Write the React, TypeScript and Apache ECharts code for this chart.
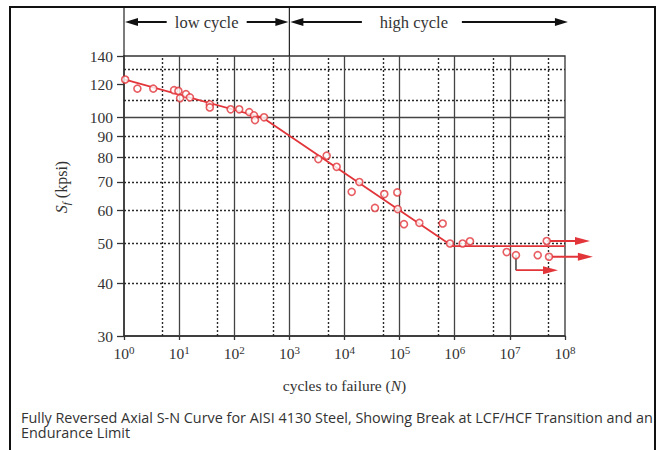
import React, { useEffect, useRef } from "react";
import * as echarts from "echarts";

// ---- data ----
const cyclesToFailure = [
  1.05, 1.75, 3.4, 8.1, 9.7, 10.4, 13.3, 15.7, 36, 36, 86, 123, 187, 228, 238, 347,
  3350, 4750, 7200, 13500, 18600, 35700, 52700, 90800, 92200, 120000, 228000, 604000,
  820000, 1390000, 1890000, 8750000, 12900000, 32000000, 46600000, 51300000,
];
const stressKpsi = [
  123, 117, 117, 116, 115.5, 111, 113.5, 111.5, 107.3, 105.5, 104.4, 104.4, 102.8, 101, 98.4, 99.9,
  79.4, 80.9, 76.1, 66.3, 70, 60.7, 65.5, 66.1, 60.3, 55.5, 55.9, 55.7,
  49.9, 49.9, 50.5, 47.6, 46.8, 46.8, 50.6, 46.4,
];
const fitCurveN = [1.05, 330, 900000, 100000000];
const fitCurveS = [123, 99.7, 49.2, 49.2];

const runoutFromN = [46600000, 51300000, 12900000];
const runoutFromS = [50.6, 46.4, 46.8];
const runoutLevelS = [50.6, 46.4, 43.1];
const runoutToN = [284000000, 320000000, 74600000];

const regionBoundsN = [1, 1000, 113000000];
const regionLabels = ["low cycle", "high cycle"];

const yTicks = [30, 40, 50, 60, 70, 80, 90, 100, 120, 140];
const xTicks = [1, 10, 100, 1000, 10000, 100000, 1000000, 10000000, 100000000];
const ySolidGrid = [100];
const yDottedGrid = [130, 110, 90, 80, 70, 60, 50, 40];
const xSolidGrid = [10, 100, 1000, 10000, 100000, 1000000, 10000000];
const xDottedGrid = [5, 50, 500, 5000, 50000, 500000, 5000000, 50000000];

const captionLines = [
  "Fully Reversed Axial S-N Curve for AISI 4130 Steel, Showing Break at LCF/HCF Transition and an",
  "Endurance Limit",
];

const RED = "#e2353a";
const INK = "#333";
const SERIF = '"Liberation Serif", "DejaVu Serif", serif';
const CAPTION_FONT = '14.4px "Open Sans", "Noto Sans", sans-serif';

function arrowParts(x1: number, x2: number, y: number, color: string, head: number, half: number, lw: number) {
  const dir = x2 > x1 ? 1 : -1;
  return [
    {
      type: "line",
      shape: { x1, y1: y, x2: x2 - dir * head * 0.7, y2: y },
      style: { stroke: color, lineWidth: lw },
    },
    {
      type: "polygon",
      shape: { points: [[x2, y], [x2 - dir * head, y - half], [x2 - dir * head, y + half]] },
      style: { fill: color },
    },
  ];
}

export default function App() {
  const ref = useRef<HTMLDivElement>(null);

  useEffect(() => {
    if (!ref.current) return;
    const chart = echarts.init(ref.current, undefined, { renderer: "svg" });

    const gridLines: any[] = [];
    ySolidGrid.forEach((v) => gridLines.push({ yAxis: v, lineStyle: { type: "solid", color: "#444", width: 1.3 } }));
    yDottedGrid.forEach((v) => gridLines.push({ yAxis: v, lineStyle: { type: [2, 2], color: "#2a2a2a", width: 1.4 } }));
    xSolidGrid.forEach((v) => gridLines.push({ xAxis: v, lineStyle: { type: "solid", color: "#444", width: 1.3 } }));
    xDottedGrid.forEach((v) => gridLines.push({ xAxis: v, lineStyle: { type: [2, 2], color: "#2a2a2a", width: 1.4 } }));

    const option: any = {
      animation: false,
      backgroundColor: "#fff",
      grid: {
        left: 124,
        top: 56,
        right: 97,
        bottom: 114,
        show: true,
        borderColor: INK,
        borderWidth: 1.3,
        backgroundColor: "#fff",
      },
      xAxis: {
        type: "log",
        logBase: 10,
        min: 1,
        max: 100000000,
        name: "cycles to failure ({i|N})",
        nameLocation: "middle",
        nameGap: 41,
        nameTextStyle: {
          fontFamily: SERIF,
          fontSize: 15.5,
          color: INK,
          rich: { i: { fontFamily: SERIF, fontSize: 15.5, fontStyle: "italic", color: INK } },
        },
        axisLine: { show: true, lineStyle: { color: INK, width: 1.5 } },
        axisTick: { show: true, customValues: xTicks, length: 4, lineStyle: { color: INK, width: 1.3 } },
        axisLabel: {
          customValues: xTicks,
          margin: 8,
          fontFamily: SERIF,
          fontSize: 15.5,
          color: INK,
          formatter: (v: number) => "{b|10}{s|" + Math.round(Math.log10(v)) + "}",
          rich: {
            b: { fontFamily: SERIF, fontSize: 15.5, color: INK, verticalAlign: "bottom" },
            s: { fontFamily: SERIF, fontSize: 11, color: INK, verticalAlign: "bottom", padding: [0, 0, 6, 0] },
          },
        },
        splitLine: { show: false },
        minorTick: { show: false },
      },
      yAxis: {
        type: "log",
        logBase: 10,
        min: 30,
        max: 140,
        name: "{i|S}{f|f} (kpsi)",
        nameLocation: "middle",
        nameRotate: 90,
        nameGap: 53,
        nameTextStyle: {
          fontFamily: SERIF,
          fontSize: 16,
          color: INK,
          padding: [0, 0, 0, 18],
          rich: {
            i: { fontFamily: SERIF, fontSize: 16, fontStyle: "italic", color: INK },
            f: { fontFamily: SERIF, fontSize: 11, fontStyle: "italic", color: INK, verticalAlign: "top", padding: [8, 0, 0, 0] },
          },
        },
        axisLine: { show: true, lineStyle: { color: INK, width: 1.5 } },
        axisTick: { show: true, customValues: yTicks, length: 7, lineStyle: { color: INK, width: 1.3 } },
        axisLabel: {
          customValues: yTicks,
          margin: 11,
          fontFamily: SERIF,
          fontSize: 15.5,
          color: INK,
          formatter: (v: number) => String(Math.round(v)),
        },
        splitLine: { show: false },
        minorTick: { show: false },
      },
      series: [
        {
          name: "grid",
          type: "line",
          data: [],
          z: 1,
          silent: true,
          markLine: {
            silent: true,
            symbol: ["none", "none"],
            label: { show: false },
            z: 1,
            emphasis: { disabled: true },
            data: gridLines,
          },
        },
        {
          name: "fit",
          type: "line",
          z: 3,
          showSymbol: false,
          symbol: "none",
          lineStyle: { color: RED, width: 1.8 },
          data: fitCurveN.map((n, i) => [n, fitCurveS[i]]),
        },
        {
          name: "runouts",
          type: "custom",
          z: 3,
          clip: false,
          silent: true,
          data: runoutFromN.map((n, i) => [n, runoutFromS[i], runoutLevelS[i], runoutToN[i]]),
          renderItem: (params: any, api: any) => {
            const fromN = api.value(0);
            const fromS = api.value(1);
            const levelS = api.value(2);
            const toN = api.value(3);
            const a = api.coord([fromN, fromS]);
            const b = api.coord([fromN, levelS]);
            const c = api.coord([toN, levelS]);
            const children: any[] = [];
            if (Math.abs(levelS - fromS) > 1e-6) {
              children.push({
                type: "line",
                shape: { x1: a[0], y1: a[1], x2: b[0], y2: b[1] },
                style: { stroke: "#222", lineWidth: 1.3 },
              });
            }
            children.push(...arrowParts(b[0], c[0], b[1], RED, 15, 4, 1.8));
            return { type: "group", children };
          },
        },
        {
          name: "tests",
          type: "scatter",
          z: 4,
          symbol: "circle",
          symbolSize: 7,
          itemStyle: { color: "#fff", borderColor: RED, borderWidth: 1.6 },
          data: cyclesToFailure.map((n, i) => [n, stressKpsi[i]]),
        },
        {
          name: "regions",
          type: "custom",
          z: 5,
          clip: false,
          silent: true,
          data: [[1, 140]],
          renderItem: (params: any, api: any) => {
            const top = api.coord([1, 140])[1];
            const xa = api.coord([regionBoundsN[0], 140])[0];
            const xb = api.coord([regionBoundsN[1], 140])[0];
            const xc = api.coord([regionBoundsN[2], 140])[0];
            const frameTop = 8;
            const ay = top - 34;
            const lowC = (xa + xb) / 2;
            const hiC = xb + (xc - xb) * 0.447;
            const font = "16.5px " + SERIF;
            const children: any[] = [
              { type: "line", shape: { x1: xa, y1: frameTop, x2: xa, y2: top }, style: { stroke: "#222", lineWidth: 1.2 } },
              { type: "line", shape: { x1: xb, y1: frameTop, x2: xb, y2: top }, style: { stroke: "#222", lineWidth: 1.2 } },
              ...arrowParts(lowC - 40, xa + 1, ay, "#111", 13, 4, 2),
              ...arrowParts(lowC + 40, xb - 1, ay, "#111", 13, 4, 2),
              ...arrowParts(hiC - 52, xb + 1, ay, "#111", 13, 4, 2),
              ...arrowParts(hiC + 48, xc, ay, "#111", 13, 4, 2),
              {
                type: "text",
                x: lowC,
                y: ay,
                style: { text: regionLabels[0], font, fill: INK, align: "center", verticalAlign: "middle" },
              },
              {
                type: "text",
                x: hiC,
                y: ay,
                style: { text: regionLabels[1], font, fill: INK, align: "center", verticalAlign: "middle" },
              },
            ];
            return { type: "group", children };
          },
        },
      ],
      graphic: [
        {
          type: "rect",
          silent: true,
          shape: { x: 10, y: 7, width: 645, height: 470 },
          style: { fill: "none", stroke: "#111", lineWidth: 2 },
          z: 10,
        },
        {
          type: "text",
          silent: true,
          x: 21,
          y: 425,
          style: {
            text: captionLines.join("\n"),
            font: CAPTION_FONT,
            lineHeight: 15,
            fill: "#333",
            verticalAlign: "middle",
          },
        },
      ],
    };

    chart.setOption(option);
    return () => chart.dispose();
  }, []);

  return (
    <div
      ref={ref}
      style={{ position: "fixed", left: 0, top: 0, width: 662, height: 450, background: "#fff" }}
    />
  );
}
